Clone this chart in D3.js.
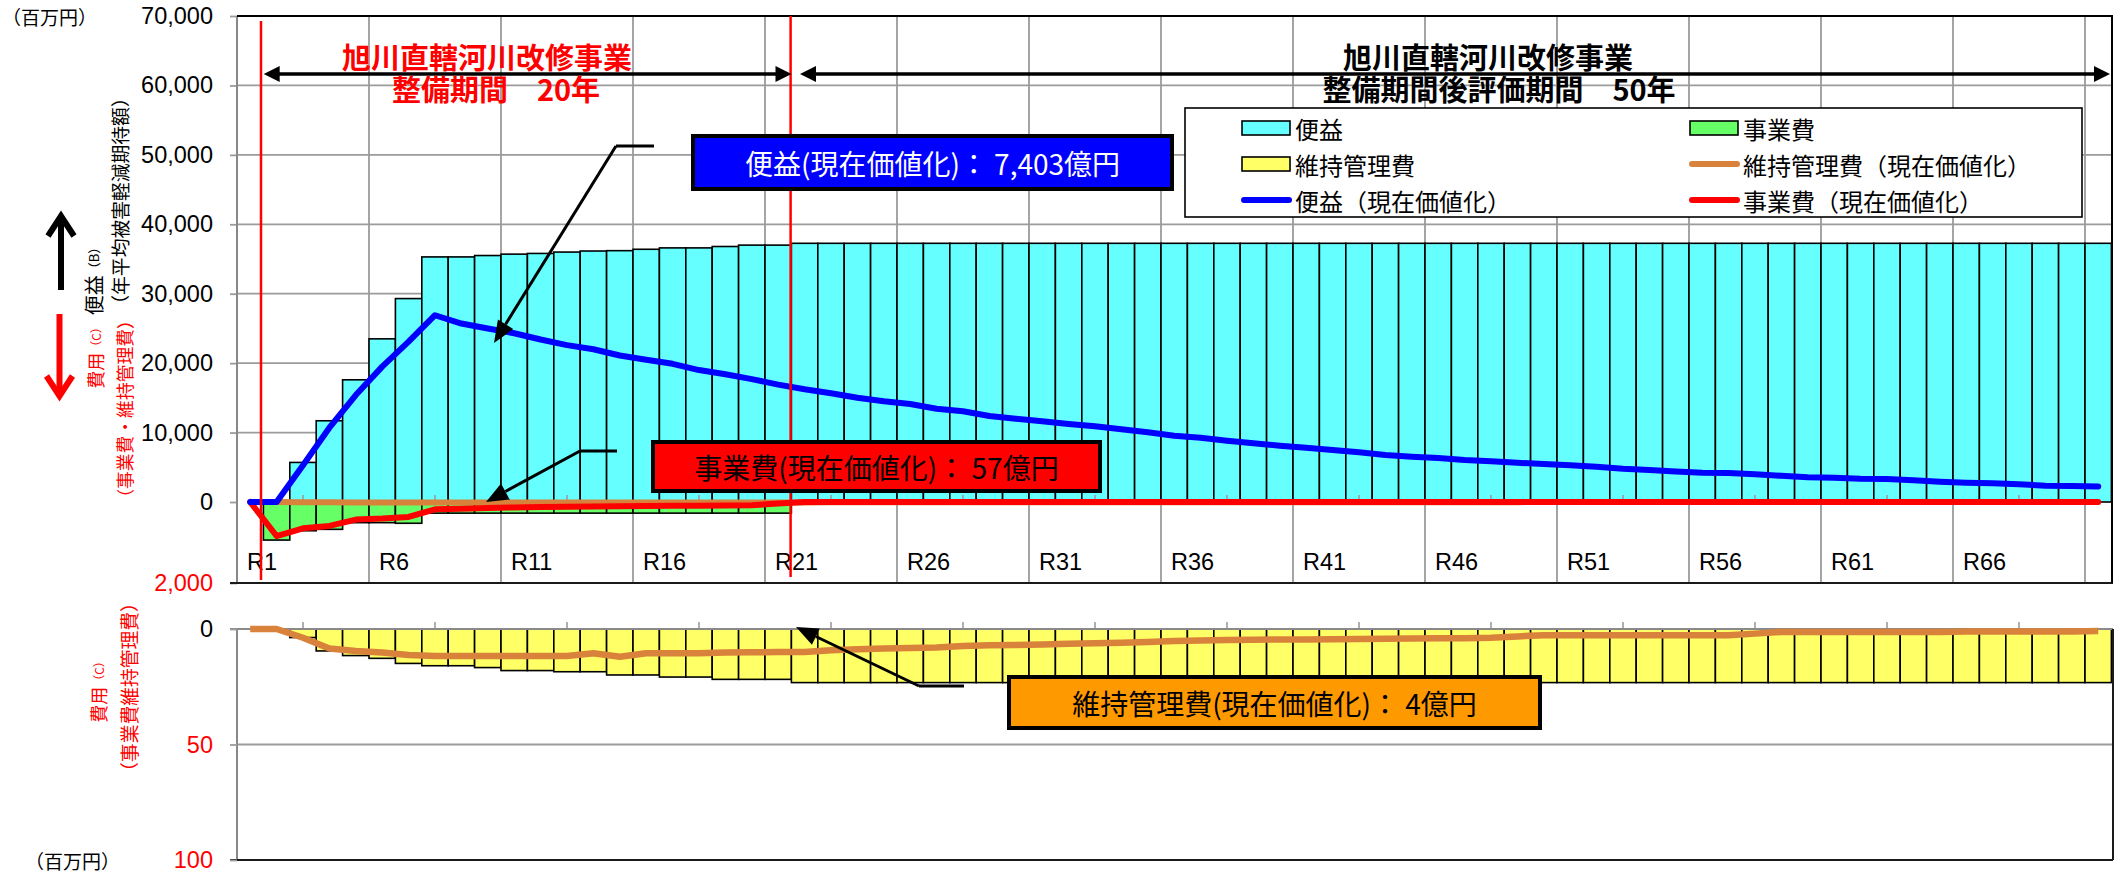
<!DOCTYPE html>
<html>
<head>
<meta charset="utf-8">
<script src="https://cdn.jsdelivr.net/npm/d3@7"></script>
<style>
  html, body { margin: 0; padding: 0; background: #fff; }
  svg { display: block; text-spacing-trim: space-all; }
  text { text-spacing-trim: space-all; }
  .jp { font-family: "Noto Sans CJK JP", "Noto Sans", sans-serif; }
  .num { font-family: "Liberation Sans", Arial, sans-serif; }
</style>
</head>
<body>
<svg id="chart" width="2123" height="875"></svg>
<script>
// ---- data (百万円) ----
const categories = d3.range(1, 72).map(i => "R" + i);   // R1 .. R71
const tickLabels = ["R1","R6","R11","R16","R21","R26","R31","R36","R41","R46","R51","R56","R61","R66"];

// 便益（年平均被害軽減期待額）
const benefit = [
  0, 0, 5700, 11700, 17600, 23500, 29300, 35300, 35300, 35500,
  35700, 35800, 36000, 36150, 36200, 36400, 36600, 36600, 36800, 37000,
  37000,
  37260, 37260, 37260, 37260, 37260, 37260, 37260, 37260, 37260, 37260,
  37260, 37260, 37260, 37260, 37260, 37260, 37260, 37260, 37260, 37260,
  37260, 37260, 37260, 37260, 37260, 37260, 37260, 37260, 37260, 37260,
  37260, 37260, 37260, 37260, 37260, 37260, 37260, 37260, 37260, 37260,
  37260, 37260, 37260, 37260, 37260, 37260, 37260, 37260, 37260, 37260
];

// 便益（現在価値化）
const benefitPV = [
  0, 0, 5300, 10700, 15400, 19500, 23100, 26900, 25700, 25000,
  24300, 23400, 22600, 22000, 21100, 20500, 19900, 19000, 18400, 17700,
  16900, 16230, 15660, 15020, 14500, 14110, 13440, 13060, 12390, 12000,
  11620, 11230, 10900, 10470, 10040, 9550, 9260, 8830, 8450, 8110,
  7820, 7490, 7160, 6770, 6530, 6340, 6050, 5860, 5660, 5470,
  5280, 5080, 4800, 4610, 4390, 4200, 4180, 3990, 3770, 3560,
  3500, 3360, 3310, 3120, 2920, 2780, 2690, 2550, 2350, 2300,
  2250
];

// 事業費
const projectCost = [
  0, 940, 710, 675, 510, 510, 525, 275, 275, 275,
  275, 275, 275, 275, 275, 275, 275, 275, 275, 275,
  275,
  0, 0, 0, 0, 0, 0, 0, 0, 0, 0,
  0, 0, 0, 0, 0, 0, 0, 0, 0, 0,
  0, 0, 0, 0, 0, 0, 0, 0, 0, 0,
  0, 0, 0, 0, 0, 0, 0, 0, 0, 0,
  0, 0, 0, 0, 0, 0, 0, 0, 0, 0
];

// 事業費（現在価値化）
const projectCostPV = [
  0, 840, 650, 590, 435, 410, 370, 180, 165, 150,
  135, 125, 115, 110, 105, 100, 95, 90, 85, 80,
  35,
  0, 0, 0, 0, 0, 0, 0, 0, 0, 0,
  0, 0, 0, 0, 0, 0, 0, 0, 0, 0,
  0, 0, 0, 0, 0, 0, 0, 0, 0, 0,
  0, 0, 0, 0, 0, 0, 0, 0, 0, 0,
  0, 0, 0, 0, 0, 0, 0, 0, 0, 0
];

// 維持管理費
const maintCost = [
  0, 0, 3.7, 9.5, 11.5, 12.7, 14.9, 15.9, 15.9, 16.7,
  18.0, 18.0, 18.5, 18.5, 19.9, 19.9, 20.8, 20.8, 21.8, 21.8,
  21.8,
  23.2, 23.2, 23.2, 23.2, 23.2, 23.2, 23.2, 23.2, 23.2, 23.2,
  23.2, 23.2, 23.2, 23.2, 23.2, 23.2, 23.2, 23.2, 23.2, 23.2,
  23.2, 23.2, 23.2, 23.2, 23.2, 23.2, 23.2, 23.2, 23.2, 23.2,
  23.2, 23.2, 23.2, 23.2, 23.2, 23.2, 23.2, 23.2, 23.2, 23.2,
  23.2, 23.2, 23.2, 23.2, 23.2, 23.2, 23.2, 23.2, 23.2, 23.2
];

// 維持管理費（現在価値化）
const maintCostPV = [
  0, 0, 3.8, 8.4, 9.5, 10.2, 11.3, 11.7, 11.7, 11.7,
  11.7, 11.7, 11.7, 10.5, 12.0, 10.5, 10.5, 10.5, 10.2, 10.1,
  10.0, 10.0, 9.2, 8.8, 8.4, 8.2, 8.0, 7.4, 7.0, 6.9,
  6.7, 6.4, 6.2, 6.0, 5.6, 5.2, 5.0, 4.8, 4.6, 4.5,
  4.5, 4.4, 4.3, 4.2, 4.1, 4.0, 4.0, 3.8, 3.2, 2.7,
  2.7, 2.7, 2.7, 2.7, 2.7, 2.7, 2.7, 2.0, 1.3, 1.3,
  1.3, 1.3, 1.3, 1.3, 1.3, 1.1, 1.1, 1.1, 1.1, 1.1,
  0.9
];

const benefitTicks = [0, 10000, 20000, 30000, 40000, 50000, 60000, 70000];
const maintTicks = [0, 50, 100];

// ---- layout ----
const svg = d3.select("#chart");
const PL = 237, PR = 2112;
const GRID = "#9b9b9b";

const x = d3.scaleBand().domain(categories).range([PL, 2111.4]).paddingInner(0).paddingOuter(0);
const cx = c => x(c) + x.bandwidth() / 2;
const yB = d3.scaleLinear().domain([0, 70000]).range([502, 16]);   // benefit (upper)
const yC = d3.scaleLinear().domain([0, 2000]).range([502, 583]);   // cost (upper, downward)
const yM = d3.scaleLinear().domain([0, 100]).range([629, 860]);    // maintenance (lower, downward)

const rows = categories.map((c, i) => ({
  c, b: benefit[i], bpv: benefitPV[i], pc: projectCost[i], pcpv: projectCostPV[i],
  m: maintCost[i], mpv: maintCostPV[i]
}));

const gridCats = categories.filter((c, i) => i % 5 === 0);   // R1, R6, ... R71
const minorCats = categories.filter((c, i) => i % 5 === 2);  // R3, R8, ...

// ---- upper panel grid ----
const gUp = svg.append("g");
gUp.selectAll("line.hg").data(benefitTicks.filter(v => v > 0 && v < 70000)).join("line")
  .attr("x1", PL).attr("x2", PR).attr("y1", d => yB(d)).attr("y2", d => yB(d))
  .attr("stroke", GRID).attr("stroke-width", 1.8);
gUp.selectAll("line.vg").data(gridCats).join("line")
  .attr("x1", d => x(d)).attr("x2", d => x(d)).attr("y1", 16).attr("y2", 583)
  .attr("stroke", GRID).attr("stroke-width", 1.8);

// bars: benefit
gUp.append("g").selectAll("rect").data(rows.filter(d => d.b > 0)).join("rect")
  .attr("x", d => x(d.c)).attr("width", x.bandwidth())
  .attr("y", d => yB(d.b)).attr("height", d => yB(0) - yB(d.b))
  .attr("fill", "#66ffff").attr("stroke", "#000").attr("stroke-width", 1.6);

// bars: project cost
gUp.append("g").selectAll("rect").data(rows.filter(d => d.pc > 0)).join("rect")
  .attr("x", d => x(d.c)).attr("width", x.bandwidth())
  .attr("y", yC(0)).attr("height", d => yC(d.pc) - yC(0))
  .attr("fill", "#66ff66").attr("stroke", "#000").attr("stroke-width", 1.6);

// minor ticks on the zero line
gUp.selectAll("line.mt").data(minorCats).join("line")
  .attr("x1", d => cx(d)).attr("x2", d => cx(d)).attr("y1", 495).attr("y2", 502)
  .attr("stroke", GRID).attr("stroke-width", 1.6);

// lines
const lineOf = (key, scale) => d3.line().x(d => cx(d.c)).y(d => scale(d[key]));
gUp.append("path").datum(rows).attr("d", lineOf("mpv", yC))
  .attr("fill", "none").attr("stroke", "#d9823b").attr("stroke-width", 6).attr("stroke-linejoin", "round");
gUp.append("path").datum(rows).attr("d", lineOf("pcpv", yC))
  .attr("fill", "none").attr("stroke", "#ff0000").attr("stroke-width", 6)
  .attr("stroke-linejoin", "round").attr("stroke-linecap", "round");
gUp.append("path").datum(rows).attr("d", lineOf("bpv", yB))
  .attr("fill", "none").attr("stroke", "#0000ff").attr("stroke-width", 6)
  .attr("stroke-linejoin", "round").attr("stroke-linecap", "round");

// axes / borders (upper)
const axB = svg.append("g").attr("transform", `translate(${PL},0)`)
  .call(d3.axisLeft(yB).tickValues(benefitTicks).tickFormat(d3.format(",")).tickSize(7).tickPadding(17));
const axC = svg.append("g").attr("transform", `translate(${PL},0)`)
  .call(d3.axisLeft(yC).tickValues([2000]).tickFormat(d3.format(",")).tickSize(7).tickPadding(17));
[axB, axC].forEach(a => {
  a.select(".domain").remove();
  a.selectAll(".tick line").attr("stroke", GRID).attr("stroke-width", 1.8);
  a.selectAll(".tick text").attr("class", "num").attr("font-size", 23.5);
});
axB.selectAll(".tick text").attr("fill", "#000");
axC.selectAll(".tick text").attr("fill", "#ff0000");

svg.append("line").attr("x1", PL).attr("x2", PL).attr("y1", 16).attr("y2", 583)
  .attr("stroke", "#888").attr("stroke-width", 2);
svg.append("line").attr("x1", PL).attr("x2", PR + 1).attr("y1", 16).attr("y2", 16)
  .attr("stroke", "#000").attr("stroke-width", 2);
svg.append("line").attr("x1", 230).attr("x2", PR + 1).attr("y1", 583).attr("y2", 583)
  .attr("stroke", "#1a1a1a").attr("stroke-width", 2);
svg.append("line").attr("x1", PR).attr("x2", PR).attr("y1", 16).attr("y2", 583)
  .attr("stroke", "#000").attr("stroke-width", 2);

// category labels
svg.append("g").selectAll("text").data(tickLabels).join("text")
  .attr("class", "num").attr("font-size", 23.5)
  .attr("x", d => x(d) + 10).attr("y", 570).attr("fill", "#000").text(d => d);

// ---- lower panel ----
const gLo = svg.append("g");
gLo.append("line").attr("x1", PL).attr("x2", PR).attr("y1", yM(50)).attr("y2", yM(50))
  .attr("stroke", GRID).attr("stroke-width", 1.8);
gLo.append("g").selectAll("rect").data(rows.filter(d => d.m > 0)).join("rect")
  .attr("x", d => x(d.c)).attr("width", x.bandwidth())
  .attr("y", yM(0)).attr("height", d => yM(d.m) - yM(0))
  .attr("fill", "#ffff66").attr("stroke", "#000").attr("stroke-width", 1.6);
gLo.selectAll("line.mt").data(minorCats).join("line")
  .attr("x1", d => cx(d)).attr("x2", d => cx(d)).attr("y1", 622).attr("y2", 629)
  .attr("stroke", GRID).attr("stroke-width", 1.6);
const axM = svg.append("g").attr("transform", `translate(${PL},0)`)
  .call(d3.axisLeft(yM).tickValues(maintTicks).tickSize(7).tickPadding(17));
axM.select(".domain").remove();
axM.selectAll(".tick line").attr("stroke", GRID).attr("stroke-width", 1.8);
axM.selectAll(".tick text").attr("class", "num").attr("font-size", 23.5)
  .attr("fill", d => d === 0 ? "#000" : "#ff0000");
gLo.append("line").attr("x1", 230).attr("x2", PR + 1).attr("y1", 629).attr("y2", 629)
  .attr("stroke", "#8a8a8a").attr("stroke-width", 2);
gLo.append("line").attr("x1", PL).attr("x2", PL).attr("y1", 629).attr("y2", 860)
  .attr("stroke", "#888").attr("stroke-width", 2);
gLo.append("line").attr("x1", 230).attr("x2", PR + 1).attr("y1", 860).attr("y2", 860)
  .attr("stroke", "#1a1a1a").attr("stroke-width", 2);
gLo.append("line").attr("x1", PR + 1).attr("x2", PR + 1).attr("y1", 629).attr("y2", 860)
  .attr("stroke", "#1a1a1a").attr("stroke-width", 2);
gLo.append("path").datum(rows).attr("d", lineOf("mpv", yM))
  .attr("fill", "none").attr("stroke", "#d9823b").attr("stroke-width", 6.5)
  .attr("stroke-linejoin", "round");

// ---- period markers ----
svg.append("line").attr("x1", 261).attr("x2", 261).attr("y1", 21).attr("y2", 580)
  .attr("stroke", "#ff0000").attr("stroke-width", 2.5);
svg.append("line").attr("x1", 790.6).attr("x2", 790.6).attr("y1", 16).attr("y2", 577)
  .attr("stroke", "#ff0000").attr("stroke-width", 2.5);

function head(g, tipX, tipY, dir, len, half) {
  // dir: +1 points right, -1 points left
  g.append("path")
    .attr("d", `M${tipX},${tipY} L${tipX - dir * len},${tipY - half} L${tipX - dir * len},${tipY + half} Z`)
    .attr("fill", "#000");
}
const gA = svg.append("g");
function dblArrow(x1, x2, yy) {
  gA.append("line").attr("x1", x1 + 10).attr("x2", x2 - 10)
    .attr("y1", yy).attr("y2", yy).attr("stroke", "#000").attr("stroke-width", 3.6);
  head(gA, x1, yy, -1, 16, 8);
  head(gA, x2, yy, 1, 16, 8);
}
dblArrow(263.7, 791.5, 74);
dblArrow(800, 2110, 74);

// period titles (two lines each)
function periodTitle(color, x1, x2, line1, line2) {
  const t = svg.append("text").attr("class", "jp").attr("font-weight", 700).attr("font-size", 29)
    .attr("text-anchor", "middle").attr("fill", color);
  t.append("tspan").attr("x", x1).attr("y", 69).text(line1);
  t.append("tspan").attr("x", x2).attr("y", 101).text(line2);
}
periodTitle("#ff0000", 487, 496, "旭川直轄河川改修事業", "整備期間　20年");
periodTitle("#000", 1488, 1499, "旭川直轄河川改修事業", "整備期間後評価期間　50年");

// ---- legend ----
const gL = svg.append("g").attr("class", "jp").attr("font-size", 24);
gL.append("rect").attr("x", 1185).attr("y", 108).attr("width", 897).attr("height", 109)
  .attr("fill", "#fff").attr("stroke", "#000").attr("stroke-width", 1.6);
const legendItems = [
  { t: "便益", type: "bar", color: "#66ffff", col: 0, row: 0 },
  { t: "事業費", type: "bar", color: "#66ff66", col: 1, row: 0 },
  { t: "維持管理費", type: "bar", color: "#ffff66", col: 0, row: 1 },
  { t: "維持管理費（現在価値化）", type: "line", color: "#d9823b", col: 1, row: 1 },
  { t: "便益（現在価値化）", type: "line", color: "#0000ff", col: 0, row: 2 },
  { t: "事業費（現在価値化）", type: "line", color: "#ff0000", col: 1, row: 2 }
];
const colX = [1242, 1690], rowY = [128, 164, 200];
legendItems.forEach(it => {
  const lx = colX[it.col], ly = rowY[it.row];
  if (it.type === "bar") {
    gL.append("rect").attr("x", lx).attr("y", ly - 7).attr("width", 48).attr("height", 14)
      .attr("fill", it.color).attr("stroke", "#000").attr("stroke-width", 1.6);
  } else {
    gL.append("line").attr("x1", lx + 2).attr("x2", lx + 47).attr("y1", ly).attr("y2", ly)
      .attr("stroke", it.color).attr("stroke-width", 6).attr("stroke-linecap", "round");
  }
  gL.append("text").attr("x", lx + 53).attr("y", ly).attr("dominant-baseline", "central")
    .attr("fill", "#000").text(it.t);
});

// ---- callouts ----
const gC = svg.append("g");
function callout(box, fill, textColor, label, path, tip) {
  gC.append("polyline").attr("points", path.map(p => p.join(",")).join(" "))
    .attr("fill", "none").attr("stroke", "#000").attr("stroke-width", 3);
  const from = path[path.length - 1];
  const ang = Math.atan2(tip[1] - from[1], tip[0] - from[0]);
  const L = 22, Hh = 9;
  const bx = tip[0] - L * Math.cos(ang), by = tip[1] - L * Math.sin(ang);
  gC.append("path")
    .attr("d", `M${tip[0]},${tip[1]} L${bx + Hh * Math.sin(ang)},${by - Hh * Math.cos(ang)} L${bx - Hh * Math.sin(ang)},${by + Hh * Math.cos(ang)} Z`)
    .attr("fill", "#000");
  gC.append("line").attr("x1", from[0]).attr("y1", from[1]).attr("x2", bx).attr("y2", by)
    .attr("stroke", "#000").attr("stroke-width", 3);
  gC.append("rect").attr("x", box[0]).attr("y", box[1]).attr("width", box[2]).attr("height", box[3])
    .attr("fill", fill).attr("stroke", "#000").attr("stroke-width", 4);
  gC.append("text").attr("class", "jp").attr("font-size", 28)
    .attr("x", box[0] + box[2] / 2).attr("y", box[1] + box[3] / 2)
    .attr("text-anchor", "middle").attr("dominant-baseline", "central")
    .attr("fill", textColor).text(label);
}
callout([693, 136, 479, 53], "#0000ff", "#fff", "便益(現在価値化)：  7,403億円",
  [[654, 146], [616, 146]], [494, 343]);
callout([653, 442, 447, 49], "#ff0000", "#000", "事業費(現在価値化)：  57億円",
  [[617, 451], [580, 451]], [486, 502]);
callout([1009, 677, 531, 51], "#ff9900", "#000", "維持管理費(現在価値化)：  4億円",
  [[964, 686], [919, 686]], [796, 627]);

// ---- axis titles ----
const gY = svg.append("g").attr("class", "jp");
gY.append("text").attr("x", 2).attr("y", 16).attr("dominant-baseline", "central")
  .attr("font-size", 19).attr("fill", "#000").text("（百万円）");
gY.append("text").attr("x", 25).attr("y", 860).attr("dominant-baseline", "central")
  .attr("font-size", 19).attr("fill", "#000").text("（百万円）");

function vtext(xc, yc, parts, color) {
  const t = gY.append("text").attr("transform", `translate(${xc},${yc}) rotate(-90)`)
    .attr("text-anchor", "middle").attr("dominant-baseline", "central").attr("fill", color);
  parts.forEach(p => t.append("tspan").attr("font-size", p[1]).text(p[0]));
}
vtext(93, 278, [["便益", 20], ["（B）", 13]], "#000");
vtext(119, 201, [["（年平均被害軽減期待額）", 18.8]], "#000");
vtext(95, 355, [["費用", 18], ["（C）", 12]], "#ff0000");
vtext(124, 409, [["（事業費・維持管理費）", 17.8]], "#ff0000");
vtext(98, 689, [["費用", 18], ["（C）", 12]], "#ff0000");
vtext(128, 687, [["（事業費維持管理費）", 18.8]], "#ff0000");

// direction arrows
const gD = svg.append("g").attr("fill", "none").attr("stroke-width", 6).attr("stroke-linejoin", "miter");
gD.append("line").attr("x1", 61).attr("x2", 61).attr("y1", 290).attr("y2", 216).attr("stroke", "#000");
gD.append("polyline").attr("points", "48,236 61,216 74,236").attr("stroke", "#000");
gD.append("line").attr("x1", 59.5).attr("x2", 59.5).attr("y1", 314).attr("y2", 396).attr("stroke", "#ff0000");
gD.append("polyline").attr("points", "46.5,376 59.5,396 72.5,376").attr("stroke", "#ff0000");
</script>
</body>
</html>
